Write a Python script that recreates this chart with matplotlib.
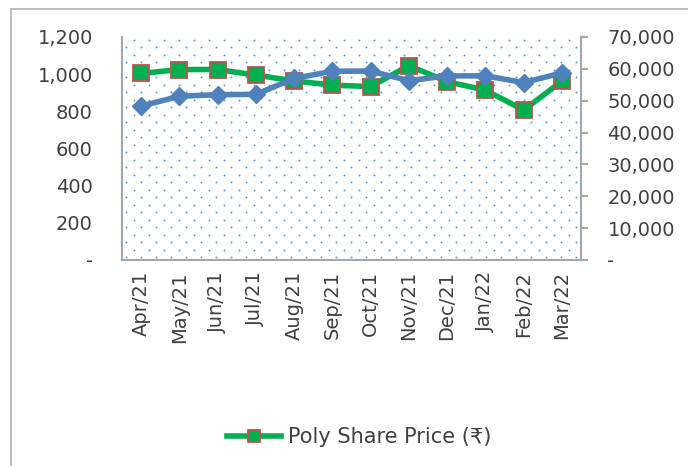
import numpy as np
import matplotlib.pyplot as plt
from matplotlib.patches import Rectangle
from matplotlib.ticker import FuncFormatter

months = ['Apr/21', 'May/21', 'Jun/21', 'Jul/21', 'Aug/21', 'Sep/21',
          'Oct/21', 'Nov/21', 'Dec/21', 'Jan/22', 'Feb/22', 'Mar/22']
share_price = [1004, 1025, 1025, 995, 964, 941, 933, 1046, 960, 914, 807, 962]
index_value = [48300, 51400, 51900, 52000, 57000, 59250,
               59300, 56300, 57800, 57800, 55700, 58700]

GREEN = '#00B050'
RED_EDGE = '#C0504D'
BLUE = '#4F81BD'
TXT = '#404040'
GRID = '#A6A6A6'

def fmt(v, pos):
    return '-' if v == 0 else f'{v:,.0f}'

fig = plt.figure(figsize=(6.88, 4.66), dpi=100)
ax = fig.add_axes([122/688, 1-260/466, 459/688, 223/466])
ax2 = ax.twinx()

x = np.arange(len(months))

# dotted pattern fill of the plot area
W, H = 459, 223
pts = []
for r, yy in enumerate(np.arange(3, H, 7.5)):
    off = 4 if r % 2 == 0 else 11.5
    for xx in np.arange(off, W, 15):
        pts.append((xx / W, yy / H))
pts = np.array(pts)
ax.scatter(pts[:, 0], pts[:, 1], s=2, color='#5B9BD5',
           transform=ax.transAxes, zorder=0, linewidths=0)

ax.plot(x, share_price, color=GREEN, lw=4, marker='s', markersize=11,
        markerfacecolor=GREEN, markeredgecolor=RED_EDGE, markeredgewidth=1.3,
        label='Poly Share Price (₹)', zorder=3)
ax2.plot(x, index_value, color=BLUE, lw=4, marker='D', markersize=9,
         markerfacecolor=BLUE, markeredgecolor=BLUE, zorder=3)

ax.set_xlim(-0.5, 11.5)
ax.set_ylim(0, 1200)
ax.set_yticks(range(0, 1201, 200))
ax2.set_ylim(0, 70000)
ax2.set_yticks(range(0, 70001, 10000))
ax.yaxis.set_major_formatter(FuncFormatter(fmt))
ax2.yaxis.set_major_formatter(FuncFormatter(fmt))

ax.set_xticks(x)
ax.set_xticklabels(months, rotation=90)

for a in (ax, ax2):
    for s in a.spines.values():
        s.set_visible(False)
ax.spines['left'].set_visible(True)
ax.spines['left'].set_color(GRID)
ax.spines['left'].set_linewidth(1.5)
ax.spines['bottom'].set_visible(True)
ax.spines['bottom'].set_color(GRID)
ax.spines['bottom'].set_linewidth(1.5)
ax2.spines['right'].set_visible(True)
ax2.spines['right'].set_color(GRID)
ax2.spines['right'].set_linewidth(1.5)

ax.tick_params(axis='y', length=0, pad=21, labelsize=14, labelcolor=TXT)
ax.tick_params(axis='x', length=0, pad=8, labelsize=14, labelcolor=TXT)
ax2.tick_params(axis='y', length=5, width=1.5, color=GRID, pad=14,
                labelsize=14, labelcolor=TXT)

fig.legend(handles=ax.get_lines(), loc='center', bbox_to_anchor=(359/688, 1-437/466),
           frameon=False, fontsize=15, handlelength=2.6, handletextpad=0.3,
           markerscale=0.75, labelcolor=TXT)

fig.patches.append(Rectangle((11/688, -0.1), 1.2, 1.1 - 9/466,
                             transform=fig.transFigure, fill=False,
                             edgecolor='#BFBFBF', lw=1.5))

fig.savefig('out.png', dpi=100)
